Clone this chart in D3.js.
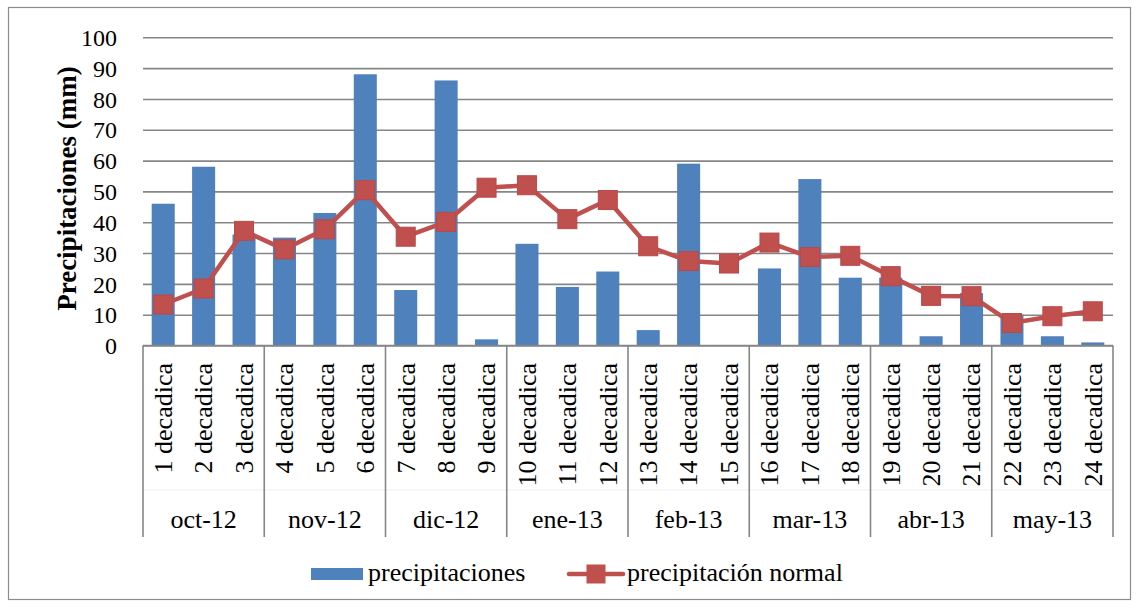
<!DOCTYPE html>
<html>
<head>
<meta charset="utf-8">
<script src="https://cdn.jsdelivr.net/npm/d3@7"></script>
<style>
  body { margin: 0; background: #fff; }
  svg text { font-family: "Liberation Serif", "Times New Roman", serif; fill: #000; }
</style>
</head>
<body>
<svg id="chart" width="1139" height="608"></svg>
<script>
// data
const decadicas = d3.range(1, 25).map((i) => i + " decadica");
const meses = ["oct-12", "nov-12", "dic-12", "ene-13", "feb-13", "mar-13", "abr-13", "may-13"];
const precipitaciones = [46, 58, 36, 35, 43, 88, 18, 86, 2, 33, 19, 24, 5, 59, 0, 25, 54, 22, 22, 3, 17, 10, 3, 1];
const normal = [13.3, 18.5, 37.2, 31.2, 37.7, 50.4, 35.3, 40.1, 51.2, 52, 41, 47.2, 32.2, 27.4, 26.6, 33.4, 28.7, 29.1, 22.5, 16.1, 16, 7.3, 9.5, 11.1];
const yTicks = d3.range(0, 101, 10);

let svg = d3.select("#chart");

let dims = { left: 143, right: 1113, top: 37.3, bottom: 345.5 };

// outer frame
svg.append("rect")
  .attr("x", 8.5).attr("y", 7.5)
  .attr("width", 1122).attr("height", 592)
  .attr("fill", "none").attr("stroke", "#8c8c8c").attr("stroke-width", 1.2);

let xScale = d3.scaleBand()
  .domain(decadicas)
  .range([dims.left, dims.right])
  .paddingInner(0.43)
  .paddingOuter(0.215);
let step = xScale.step();
let yScale = d3.scaleLinear().domain([0, 100]).range([dims.bottom, dims.top]);

// gridlines
svg.append("g")
  .attr("transform", "translate(" + dims.left + ",0)")
  .call(d3.axisLeft(yScale).tickValues(yTicks).tickSize(-(dims.right - dims.left)).tickFormat(""))
  .call((g) => g.select(".domain").remove())
  .call((g) => g.selectAll("line").attr("stroke", "#868686").attr("stroke-width", 1.6));

// y tick labels
svg.append("g")
  .attr("transform", "translate(" + (dims.left - 26) + ",0)")
  .call(d3.axisLeft(yScale).tickValues(yTicks).tickSize(0))
  .call((g) => g.select(".domain").remove())
  .call((g) => g.selectAll("text")
    .attr("x", 0)
    .attr("dy", "0.34em")
    .style("font-family", "Liberation Serif")
    .style("font-size", "24px")
    .attr("fill", "#000"));

svg.append("text")
  .text("Precipitaciones (mm)")
  .attr("transform", "translate(76," + 188.5 + ") rotate(-90)")
  .attr("text-anchor", "middle")
  .style("font-size", "27px")
  .style("font-weight", "bold");

// bars
svg.append("g")
  .selectAll("rect")
  .data(precipitaciones)
  .join("rect")
  .attr("x", (d, i) => xScale(decadicas[i]))
  .attr("y", (d) => yScale(d))
  .attr("width", xScale.bandwidth())
  .attr("height", (d) => yScale(0) - yScale(d))
  .attr("fill", "#4F81BD");

// category axis: horizontal line + group separators
let axisG = svg.append("g");
axisG.append("line")
  .attr("x1", dims.left).attr("x2", dims.right)
  .attr("y1", dims.bottom).attr("y2", dims.bottom)
  .attr("stroke", "#868686").attr("stroke-width", 1.6);
axisG.append("line")
  .attr("x1", dims.left).attr("x2", dims.right)
  .attr("y1", 490).attr("y2", 490)
  .attr("stroke", "#efefef").attr("stroke-width", 1);
axisG.selectAll(".sep")
  .data(d3.range(0, meses.length + 1))
  .join("line")
  .attr("class", "sep")
  .attr("x1", (k) => dims.left + k * 3 * step)
  .attr("x2", (k) => dims.left + k * 3 * step)
  .attr("y1", dims.bottom).attr("y2", 537)
  .attr("stroke", "#868686").attr("stroke-width", 1.6);

// rotated decadica labels
svg.append("g")
  .selectAll("text")
  .data(decadicas)
  .join("text")
  .text((d) => d)
  .attr("transform", (d) => "translate(" + (xScale(d) + xScale.bandwidth() / 2) + ",363) rotate(-90)")
  .attr("text-anchor", "end")
  .attr("dy", "0.34em")
  .style("font-size", "26px");

// month labels
svg.append("g")
  .selectAll("text")
  .data(meses)
  .join("text")
  .text((d) => d)
  .attr("x", (d, k) => dims.left + (k + 0.5) * 3 * step)
  .attr("y", 528)
  .attr("text-anchor", "middle")
  .style("font-size", "26px");

// normal precipitation line
let line = d3.line()
  .x((d, i) => xScale(decadicas[i]) + xScale.bandwidth() / 2)
  .y((d) => yScale(d));

svg.append("path")
  .datum(normal)
  .attr("d", line)
  .attr("fill", "none")
  .attr("stroke", "#C0504D")
  .attr("stroke-width", 4.5)
  .attr("stroke-linejoin", "round");

let ms = 19;
svg.append("g")
  .selectAll("rect")
  .data(normal)
  .join("rect")
  .attr("x", (d, i) => xScale(decadicas[i]) + xScale.bandwidth() / 2 - ms / 2)
  .attr("y", (d) => yScale(d) - ms / 2)
  .attr("width", ms).attr("height", ms)
  .attr("fill", "#C0504D")
  .attr("stroke", "#B9484A").attr("stroke-width", 1);

// legend
let legend = svg.append("g");
legend.append("rect")
  .attr("x", 311).attr("y", 568).attr("width", 52).attr("height", 12)
  .attr("fill", "#4F81BD");
legend.append("text")
  .text("precipitaciones")
  .attr("x", 368).attr("y", 581)
  .style("font-size", "26px");
legend.append("line")
  .attr("x1", 569).attr("x2", 623).attr("y1", 574).attr("y2", 574)
  .attr("stroke", "#C0504D").attr("stroke-width", 4.5).attr("stroke-linecap", "round");
legend.append("rect")
  .attr("x", 586.5).attr("y", 564.5).attr("width", 19).attr("height", 19)
  .attr("fill", "#C0504D");
legend.append("text")
  .text("precipitación normal")
  .attr("x", 627).attr("y", 581)
  .style("font-size", "26px");
</script>
</body>
</html>
